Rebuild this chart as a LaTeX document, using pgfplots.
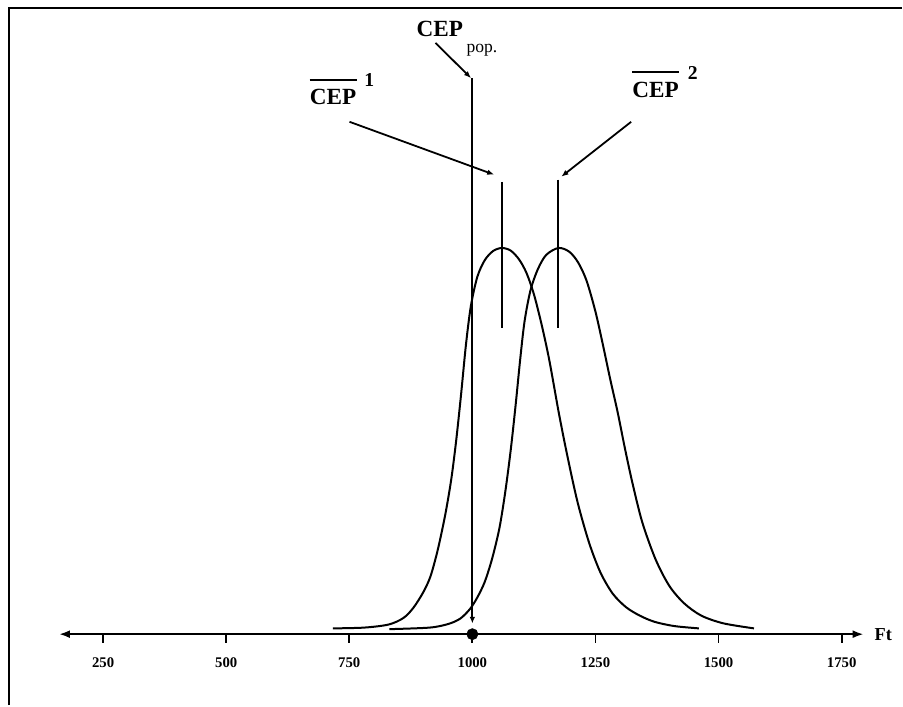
\documentclass[border=0pt]{standalone}
\usepackage{pgfplots}
\pgfplotsset{compat=1.18}
\usepackage{fontspec}
\setmainfont{Liberation Serif}
\usetikzlibrary{arrows.meta}

\begin{document}
\begin{tikzpicture}
\begin{axis}[
    x=0.12325mm, y=96.675mm,
    xmin=160, xmax=1795,
    ymin=-0.1836, ymax=1.642,
    axis x line=middle,
    axis y line=none,
    clip=false,
    x axis line style={line width=0.65mm, {Latex[length=2.8mm,width=2mm]}-{Latex[length=2.8mm,width=2mm]}},
    xtick={250,500,750,1000,1250,1500,1750},
    xticklabels={250,500,750,1000,1250,1500,1750},
    xtick align=outside,
    major tick length=2.2mm,
    xtick style={line width=0.45mm, black},
    xticklabel style={font=\bfseries\fontsize{10.5}{12}\selectfont, yshift=-2.4mm},
]

% the two distributions
\addplot[smooth, tension=0.5, line width=0.5mm] coordinates {
    (716.7,0.015) (780,0.017) (830,0.025) (860,0.042) (880,0.068)
    (900,0.108) (915,0.150) (930,0.220) (945,0.310) (957,0.400)
    (967,0.500) (977,0.620) (987,0.750) (997,0.850) (1010,0.925)
    (1025,0.968) (1042,0.992) (1060,1.000) (1078,0.993) (1095,0.970)
    (1110,0.935) (1125,0.880) (1140,0.805) (1156,0.711) (1176,0.570)
    (1194,0.455) (1214,0.340) (1237,0.237) (1260,0.160) (1285,0.105)
    (1312,0.070) (1340,0.048) (1370,0.032) (1410,0.021) (1460,0.015)
};
\addplot[smooth, tension=0.5, line width=0.5mm] coordinates {
    (831.6,0.013) (912.8,0.017) (950,0.026) (975,0.040) (995,0.065)
    (1010,0.095) (1025,0.135) (1040,0.195) (1055,0.275) (1067,0.370)
    (1078,0.478) (1088,0.595) (1097,0.710) (1106,0.810) (1118,0.890)
    (1133,0.945) (1150,0.982) (1175,1.000) (1197,0.990) (1215,0.962)
    (1232,0.915) (1250,0.835) (1265,0.750) (1280,0.660) (1295,0.575)
    (1310,0.480) (1325,0.392) (1345,0.290) (1372,0.194) (1400,0.125)
    (1430,0.080) (1465,0.048) (1510,0.028) (1572,0.015)
};

% sample means
\addplot[line width=0.45mm] coordinates {(1060.5,1.171) (1060.5,0.794)};
\addplot[line width=0.45mm] coordinates {(1174.5,1.177) (1174.5,0.794)};

% population value
\addplot[line width=0.45mm, -{Latex[length=1.6mm,width=1.4mm]}] coordinates {(1000,1.440) (1000,0.028)};
\addplot[only marks, mark=*, mark size=1.4mm] coordinates {(1000,0)};

% frame
\draw[line width=0.6mm] (axis cs:58.8,-0.1836) -- (axis cs:58.8,1.6214) -- (axis cs:1872.2,1.6214);
\path (axis cs:40.6,-0.1836) rectangle (axis cs:1872.2,1.642);

% labels and leaders
\node[anchor=west, font=\bfseries\fontsize{13}{15}\selectfont] at (axis cs:1807,0) {Ft};

\node[anchor=base west, inner sep=0pt, font=\bfseries\fontsize{16.5}{18}\selectfont] at (axis cs:886.4,1.5464) {CEP};
\node[anchor=base west, inner sep=0pt, font=\fontsize{12.5}{14}\selectfont] at (axis cs:987.8,1.505) {pop.};
\draw[line width=0.45mm, -{Latex[length=1.8mm,width=1.4mm]}] (axis cs:925,1.5309) -- (axis cs:997.4,1.4396);

\node[anchor=base west, inner sep=0pt, font=\bfseries\fontsize{16.5}{18}\selectfont] at (axis cs:669.4,1.3706) {CEP};
\draw[line width=0.5mm] (axis cs:669.4,1.4352) -- (axis cs:764.7,1.4352);
\node[anchor=base west, inner sep=0pt, font=\bfseries\fontsize{14}{16}\selectfont] at (axis cs:780,1.417) {1};
\draw[line width=0.45mm, -{Latex[length=1.8mm,width=1.4mm]}] (axis cs:750.5,1.3266) -- (axis cs:1044.6,1.1896);

\node[anchor=base west, inner sep=0pt, font=\bfseries\fontsize{16.5}{18}\selectfont] at (axis cs:1324.5,1.3887) {CEP};
\draw[line width=0.5mm] (axis cs:1324.5,1.456) -- (axis cs:1419.8,1.456);
\node[anchor=base west, inner sep=0pt, font=\bfseries\fontsize{14}{16}\selectfont] at (axis cs:1437,1.435) {2};
\draw[line width=0.45mm, -{Latex[length=1.8mm,width=1.4mm]}] (axis cs:1322.5,1.3266) -- (axis cs:1180.5,1.1844);

\end{axis}
\end{tikzpicture}
\end{document}
